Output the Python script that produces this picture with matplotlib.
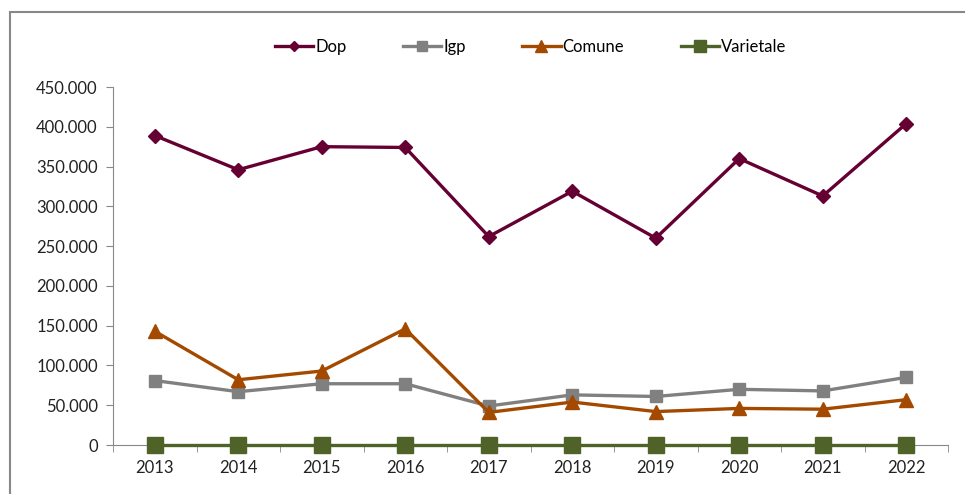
import numpy as np
import matplotlib.pyplot as plt
from matplotlib.ticker import FuncFormatter, FixedLocator
from matplotlib.patches import Rectangle

plt.rcParams['font.family'] = ['Lato', 'DejaVu Sans']

# Data
years = ['2013', '2014', '2015', '2016', '2017', '2018', '2019', '2020', '2021', '2022']
dop = [389000, 346000, 375000, 374000, 262000, 319000, 260000, 360000, 313000, 404000]
igp = [81000, 67000, 77000, 77000, 49000, 63000, 61000, 70000, 68000, 85000]
comune = [143000, 82000, 93000, 146000, 41000, 54000, 42000, 46000, 45000, 57000]
varietale = [0, 0, 0, 0, 0, 0, 0, 0, 0, 0]

fig = plt.figure(figsize=(9.65, 4.94), dpi=100)
ax = fig.add_axes([113 / 965, 1 - 445 / 494, (948 - 113) / 965, (445 - 87) / 494])

# outer chart border (left and top visible, rest runs off the image)
fig.patches.append(Rectangle((10 / 965, -0.1), 1.1, 1 - 12 / 494 + 0.1,
                             transform=fig.transFigure, fill=False,
                             edgecolor='#888888', linewidth=1.5))

x = np.arange(len(years))
ax.plot(x, dop, color='#660033', lw=2.4, marker='D', ms=7, label='Dop', clip_on=False)
ax.plot(x, igp, color='#808080', lw=2.4, marker='s', ms=9, label='Igp', clip_on=False)
ax.plot(x, comune, color='#A34A00', lw=2.4, marker='^', ms=10, label='Comune', clip_on=False)
ax.plot(x, varietale, color='#4F6228', lw=2.4, marker='s', ms=11, label='Varietale', clip_on=False, zorder=5)

ax.set_xlim(-0.5, len(years) - 0.5)
ax.set_ylim(0, 450000)
ax.set_yticks(np.arange(0, 450001, 50000))
ax.yaxis.set_major_formatter(FuncFormatter(lambda v, p: '0' if v == 0 else f'{int(v):,}'.replace(',', '.')))
ax.set_xticks(x)
ax.set_xticklabels(years)
ax.xaxis.set_minor_locator(FixedLocator(np.arange(-0.5, len(years), 1.0)))
ax.tick_params(axis='x', which='major', length=0, pad=11, labelsize=12, colors='#222222')
ax.tick_params(axis='x', which='minor', length=5, color='#888888', direction='out')
ax.tick_params(axis='y', length=5, color='#888888', labelsize=12, labelcolor='#222222', pad=6)

for s in ['top', 'right']:
    ax.spines[s].set_visible(False)
for s in ['left', 'bottom']:
    ax.spines[s].set_color('#888888')

ax.legend(loc='center', bbox_to_anchor=(0.5, 1 + 40 / 358), ncol=4, frameon=False,
          fontsize=12, columnspacing=3.4, handlelength=2.3, handletextpad=0.1,
          markerscale=0.8)

fig.savefig('out.png', dpi=100)
